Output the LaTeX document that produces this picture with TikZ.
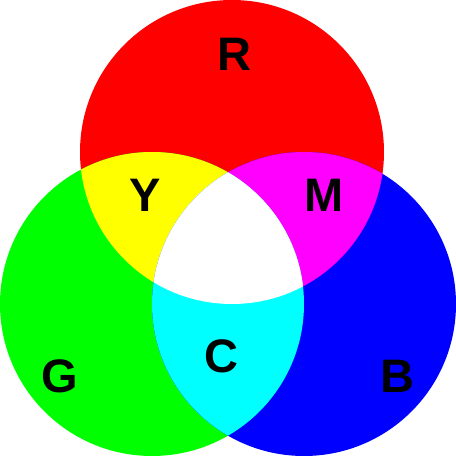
\documentclass[tikz,border=0pt]{standalone}
\usepackage{fontspec}
\setmainfont{Liberation Sans}
\definecolor{pR}{RGB}{255,0,0}
\definecolor{pG}{RGB}{0,255,0}
\definecolor{pB}{RGB}{0,0,255}
\definecolor{pY}{RGB}{255,255,0}
\definecolor{pM}{RGB}{255,0,255}
\definecolor{pC}{RGB}{0,255,255}
\definecolor{pW}{RGB}{255,255,255}
\begin{document}
\begin{tikzpicture}[x=1pt,y=-1pt,
  lbl/.style={inner sep=0pt,font=\fontsize{47}{47}\selectfont\bfseries,text=black}]
\fill[pW] (0,0) rectangle (456,456);
\useasboundingbox (0,0) rectangle (456,456);
\def\Rc{(232,152) circle (152)}
\def\Gc{(152,304) circle (152)}
\def\Bc{(304,304) circle (152)}
\fill[pR] \Rc;
\fill[pG] \Gc;
\fill[pB] \Bc;
\begin{scope}\clip \Rc; \fill[pY] \Gc; \end{scope}
\begin{scope}\clip \Rc; \fill[pM] \Bc; \end{scope}
\begin{scope}\clip \Gc; \fill[pC] \Bc; \end{scope}
\begin{scope}\clip \Rc; \clip \Gc; \fill[pW] \Bc; \end{scope}
\node[lbl] (r) at (234,54) {R};
\node[lbl] (y) at (145,195) {Y};
\node[lbl] (m) at (324,195) {M};
\node[lbl] (g) at (60,376) {G};
\node[lbl] (c) at (221,356) {C};
\node[lbl] (b) at (397,376) {B};
\end{tikzpicture}
\end{document}
